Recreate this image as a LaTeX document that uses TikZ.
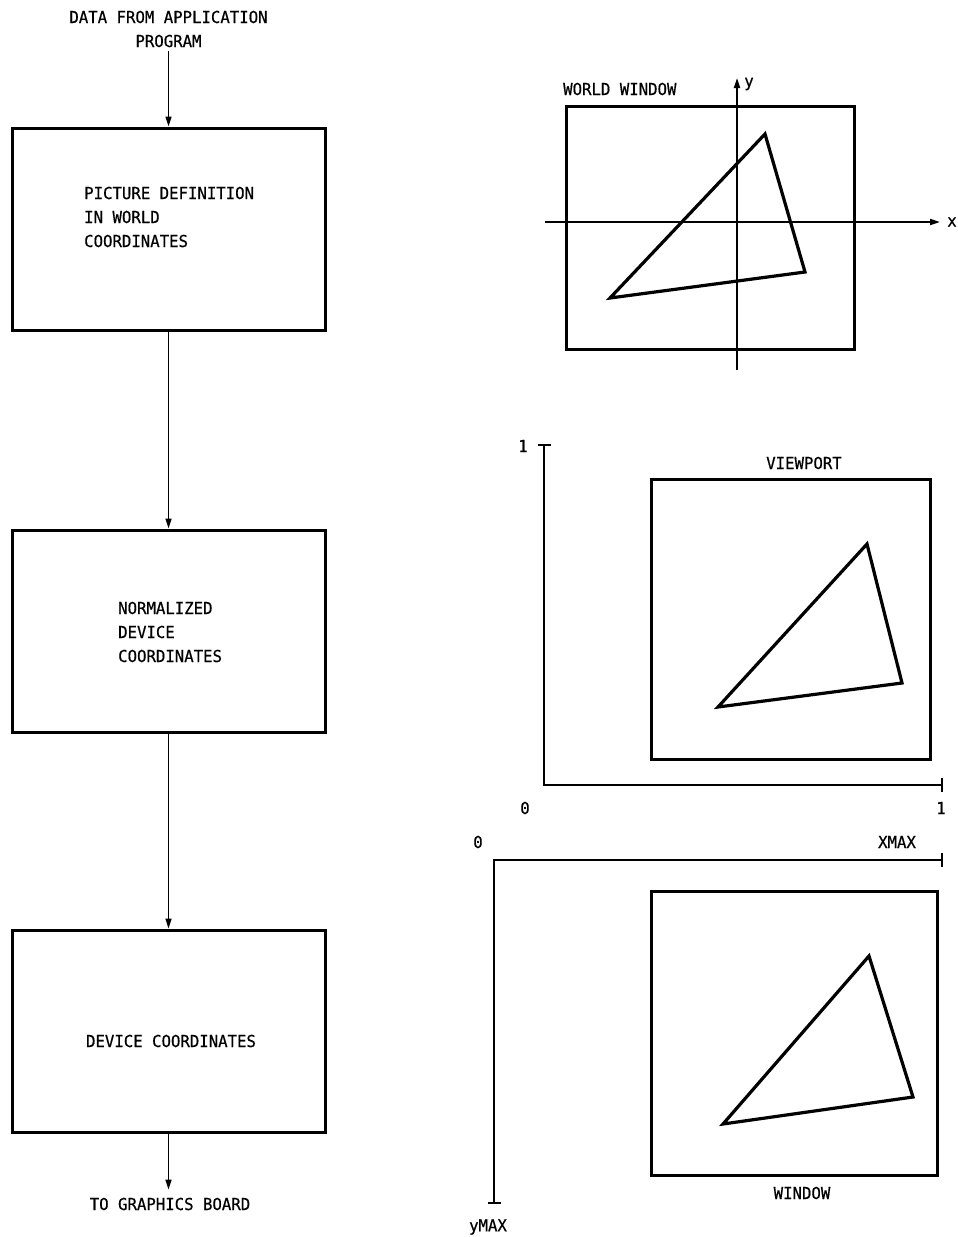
\documentclass[tikz,border=0pt]{standalone}
\usepackage{fontspec}
\setmonofont{DejaVu Sans Mono}[FakeStretch=0.95,FakeBold=0.6]
\usetikzlibrary{arrows.meta}
\begin{document}
\begin{tikzpicture}[x=1pt,y=-1pt,
  box/.style={draw, line width=3pt, minimum width=313pt, minimum height=202pt, inner sep=0pt},
  tip/.style={-{Triangle[length=10pt,width=6pt]}},
  flow/.style={line width=1.6pt, tip},
  lbl/.style={font=\ttfamily\fontsize{16.5}{24}\selectfont, inner sep=0pt},
  frame/.style={line width=3pt},
  tri/.style={line width=3.2pt, line join=miter},
  axis/.style={line width=1.7pt},
  naxis/.style={line width=2.8pt}]
\useasboundingbox (0,0) rectangle (958,1237);

% ---------- left column ----------
\node[lbl, align=center] (src) at (168.5,29) {DATA FROM APPLICATION\\PROGRAM};
\node[box] (b1) at (168.5,229) {};
\node[box] (b2) at (168.5,631) {};
\node[box] (b3) at (168.5,1031) {};
\node[lbl] (dst) at (170,1204) {TO GRAPHICS BOARD};

\node[lbl, align=left, anchor=west] (t1) at (84,217) {PICTURE DEFINITION\\IN WORLD\\COORDINATES};
\node[lbl, align=left, anchor=west] (t2) at (118,632) {NORMALIZED\\DEVICE\\COORDINATES};
\node[lbl] (t3) at (171,1041) {DEVICE COORDINATES};

\draw[flow, shorten <=4pt] (src.south) -- (src.south |- b1.north);
\draw[flow] (b1.south) -- (b2.north);
\draw[flow] (b2.south) -- (b3.north);
\draw[flow, shorten >=8pt] (b3.south) -- (b3.south |- dst.north);

% ---------- world window ----------
\draw[frame] (566,106) rectangle (854,349);
\draw[axis, tip] (545,222) -- (940,222);
\draw[axis, tip] (737,370) -- (737,78);
\node[lbl] (xl) at (952,222) {x};
\node[lbl] (yl) at (749,84) {y};
\node[lbl, anchor=west] (ww) at (563,89) {WORLD WINDOW};
\draw[tri] (765,134) -- (805,272) -- (610,298) -- cycle;

% ---------- viewport ----------
\draw[naxis] (544,445) -- (544,785) -- (942,785);
\draw[naxis] (538,445) -- (551,445);
\draw[naxis] (942,778) -- (942,792);
\node[lbl] (v1) at (523,446) {1};
\node[lbl] (v0) at (525,808) {0};
\node[lbl] (h1) at (941,808) {1};
\draw[frame] (651,479) rectangle (930,759);
\node[lbl] (vp) at (804,463) {VIEWPORT};
\draw[tri] (867,544) -- (902,683) -- (718,707) -- cycle;

% ---------- device window ----------
\node[lbl] (d0) at (478,842) {0};
\node[lbl] (xm) at (897,842) {XMAX};
\draw[naxis] (942,860) -- (494,860) -- (494,1203);
\draw[naxis] (942,853) -- (942,867);
\draw[naxis] (488,1203) -- (501,1203);
\node[lbl] (ym) at (488,1227) {yMAX};
\draw[frame] (651,891) rectangle (937,1175);
\node[lbl] (wn) at (802,1193) {WINDOW};
\draw[tri] (869,956) -- (913,1097) -- (723,1124) -- cycle;
\end{tikzpicture}
\end{document}
